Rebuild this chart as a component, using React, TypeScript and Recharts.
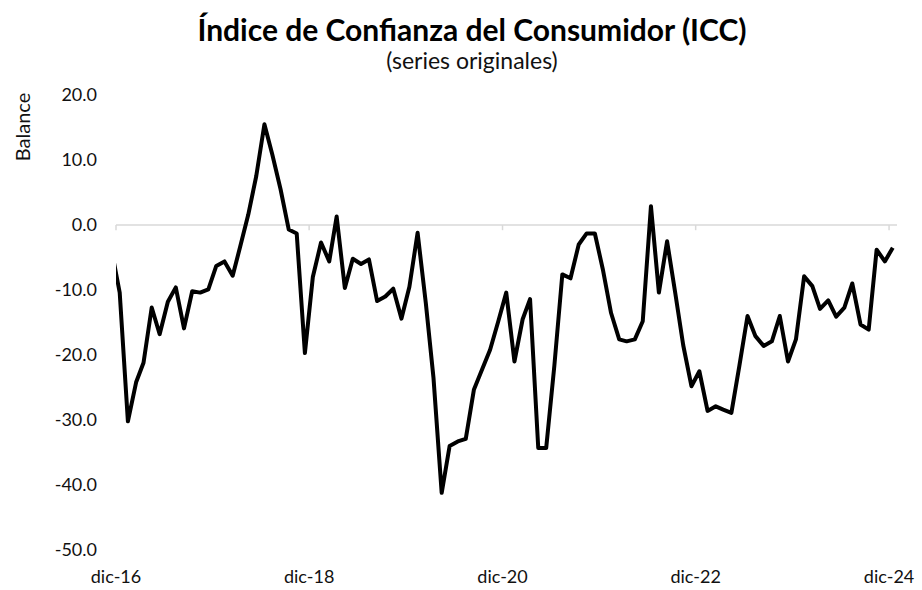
import React from "react";
import { LineChart, Line, XAxis, YAxis, ReferenceLine } from "recharts";

// Monthly balance, nov-16 .. dic-24 (first month falls before the axis start and is clipped)
const values: number[] = [
  -4.0, -10.4,
  -30.2, -24.2, -21.2, -12.7, -16.8, -11.8, -9.6, -15.9, -10.2, -10.4, -9.9, -6.3,
  -5.6, -7.8, -3.4, 1.6, 7.5, 15.5, 10.8, 5.5, -0.7, -1.3, -19.7, -8.0,
  -2.7, -5.6, 1.3, -9.7, -5.2, -6.0, -5.3, -11.7, -11.0, -9.8, -14.4, -9.5,
  -1.2, -12.0, -23.5, -41.2, -34.0, -33.3, -32.9, -25.3, -22.2, -19.2, -14.8, -10.4,
  -21.0, -14.5, -11.4, -34.3, -34.3, -21.6, -7.6, -8.2, -3.0, -1.3, -1.3, -6.8,
  -13.5, -17.6, -17.9, -17.6, -14.8, 2.9, -10.4, -2.5, -10.5, -18.5, -24.8, -22.5,
  -28.6, -27.9, -28.4, -28.9, -21.7, -14.0, -17.1, -18.6, -17.9, -14.0, -21.0, -17.6,
  -7.9, -9.4, -12.9, -11.6, -14.1, -12.7, -9.0, -15.3, -16.1, -3.8, -5.6, -3.5,
];

const firstYear = 2016;
const firstMonth = 10; // noviembre (0-based)

const xTickYears = [2016, 2018, 2020, 2022, 2024];
const xTickLabels = ["dic-16", "dic-18", "dic-20", "dic-22", "dic-24"];
const yTicks = [-50, -40, -30, -20, -10, 0, 10, 20];

const data = values.map((v, i) => ({
  t: Date.UTC(firstYear, firstMonth + i, 15),
  v,
}));

const xTicks = xTickYears.map((y) => Date.UTC(y, 11, 1));
const xDomain = [Date.UTC(2016, 11, 1), Date.UTC(2024, 11, 31)];

const FONT = "Lato, 'Open Sans', sans-serif";

export default function App() {
  return (
    <div
      style={{
        position: "absolute",
        left: 0,
        top: 0,
        width: 922,
        height: 590,
        background: "#fff",
        fontFamily: FONT,
      }}
    >
      <div
        style={{
          position: "absolute",
          left: 11,
          top: 11,
          width: 922,
          textAlign: "center",
          fontSize: 30,
          fontWeight: 700,
          lineHeight: "36px",
          color: "#000",
        }}
      >
        Índice de Confianza del Consumidor (ICC)
      </div>
      <div
        style={{
          position: "absolute",
          left: 11,
          top: 45,
          width: 922,
          textAlign: "center",
          fontSize: 23,
          lineHeight: "30px",
          color: "#111",
        }}
      >
        (series originales)
      </div>
      <div
        style={{
          position: "absolute",
          left: 22,
          top: 127,
          transform: "translate(-50%, -50%) rotate(-90deg)",
          fontSize: 20,
          color: "#111",
          whiteSpace: "nowrap",
        }}
      >
        Balance
      </div>
      <LineChart
        width={922}
        height={590}
        data={data}
        margin={{ top: 95, right: 25, bottom: 10, left: 0 }}
      >
        <XAxis
          dataKey="t"
          type="number"
          domain={xDomain}
          ticks={xTicks}
          allowDataOverflow
          axisLine={false}
          tickLine={false}
          tickSize={0}
          tickMargin={20}
          height={30}
          interval={0}
          tickFormatter={(v: number) => xTickLabels[xTicks.indexOf(v)] ?? ""}
          tick={{ fill: "#111", fontSize: 18, fontFamily: FONT }}
        />
        <YAxis
          type="number"
          domain={[-50, 20]}
          ticks={yTicks}
          width={116}
          axisLine={false}
          tickLine={false}
          tickSize={0}
          tickMargin={19}
          interval={0}
          tickFormatter={(v: number) => v.toFixed(1)}
          tick={{ fill: "#111", fontSize: 18, fontFamily: FONT }}
        />
        <ReferenceLine y={0} stroke="#d9d9d9" strokeWidth={1.5} />
        {xTicks.map((d) => (
          <ReferenceLine
            key={d}
            segment={[
              { x: d, y: 0 },
              { x: d, y: -0.8 },
            ]}
            stroke="#d9d9d9"
            strokeWidth={1.5}
          />
        ))}
        <Line
          type="linear"
          dataKey="v"
          stroke="#000"
          strokeWidth={4}
          strokeLinejoin="round"
          dot={false}
          activeDot={false}
          isAnimationActive={false}
        />
      </LineChart>
    </div>
  );
}
